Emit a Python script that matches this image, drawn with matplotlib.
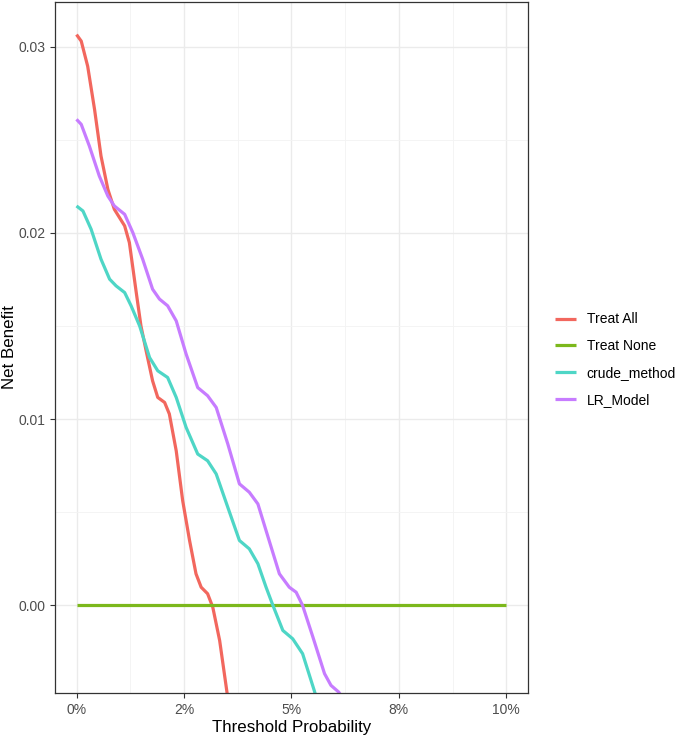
import matplotlib
matplotlib.use("Agg")
from matplotlib import pyplot as plt
from matplotlib.ticker import FixedLocator

plt.rcParams['font.family'] = ['Liberation Sans', 'DejaVu Sans']

# threshold probability (%) and net benefit
all_x = [0.0, 0.11, 0.26, 0.42, 0.57, 0.73, 0.88, 1.12, 1.23, 1.39, 1.50,
         1.62, 1.77, 1.89, 2.05, 2.16, 2.32, 2.47, 2.63, 2.78, 2.90, 3.05,
         3.17, 3.33, 3.50, 3.56]
all_y = [0.03065, 0.0303, 0.02895, 0.02663, 0.02413, 0.02234, 0.02127,
         0.02038, 0.01948, 0.0168, 0.0150, 0.01367, 0.01206, 0.01117, 0.0109,
         0.01028, 0.0083, 0.00563, 0.00349, 0.0017, 0.00098, 0.00063,
         -0.00009, -0.00188, -0.00465, -0.0056]

none_x = [0.0, 10.0]
none_y = [0.0, 0.0]

crude_x = [0.0, 0.15, 0.34, 0.57, 0.77, 0.92, 1.12, 1.27, 1.47, 1.70, 1.89,
           2.12, 2.32, 2.55, 2.82, 3.05, 3.25, 3.52, 3.79, 4.02, 4.22, 4.41,
           4.57, 4.80, 5.03, 5.26, 5.53, 5.60]
crude_y = [0.02145, 0.02118, 0.0202, 0.01859, 0.01752, 0.01716, 0.0168,
           0.01609, 0.0150, 0.01331, 0.0126, 0.01224, 0.01117, 0.00956,
           0.00813, 0.00777, 0.00706, 0.00527, 0.00349, 0.00304, 0.00224,
           0.00098, 0.0, -0.00134, -0.00179, -0.00259, -0.00456, -0.0051]

lr_x = [0.0, 0.11, 0.30, 0.53, 0.73, 0.88, 1.12, 1.31, 1.54, 1.77, 1.93,
        2.12, 2.32, 2.55, 2.82, 3.05, 3.25, 3.52, 3.79, 4.02, 4.22, 4.41,
        4.72, 4.95, 5.11, 5.26, 5.50, 5.77, 5.92, 6.10, 6.20]
lr_y = [0.0261, 0.02583, 0.02466, 0.02306, 0.02198, 0.02145, 0.021,
        0.02002, 0.01859, 0.01698, 0.01645, 0.01609, 0.01528, 0.0135,
        0.0117, 0.01126, 0.01063, 0.00867, 0.00653, 0.00608, 0.00545,
        0.00402, 0.0017, 0.00098, 0.00071, 0.0, -0.0017, -0.00366, -0.00429,
        -0.00465, -0.0050]

labels = ["Treat All", "Treat None", "crude_method", "LR_Model"]
colors = ["#F2675E", "#7CB81C", "#4ED6C6", "#C77CFF"]

x_ticks = [0, 2.5, 5, 7.5, 10]
x_tick_labels = ["0%", "2%", "5%", "8%", "10%"]
y_ticks = [0.0, 0.01, 0.02, 0.03]
y_tick_labels = ["0.00", "0.01", "0.02", "0.03"]

fig = plt.figure(figsize=(6.75, 7.36), dpi=100)
ax = fig.add_axes([0.0815, 0.0584, 0.7005, 0.9389])

series = [(all_x, all_y), (none_x, none_y), (crude_x, crude_y), (lr_x, lr_y)]
for (xs, ys), lab, col in zip(series, labels, colors):
    ax.plot(xs, ys, color=col, lw=2.3, label=lab, solid_capstyle='butt',
            solid_joinstyle='round')

ax.set_xlim(-0.5, 10.5)
ax.set_ylim(-0.0047, 0.0324)

ax.set_xticks(x_ticks)
ax.set_xticklabels(x_tick_labels)
ax.set_yticks(y_ticks)
ax.set_yticklabels(y_tick_labels)
ax.xaxis.set_minor_locator(FixedLocator([1.25, 3.75, 6.25, 8.75]))
ax.yaxis.set_minor_locator(FixedLocator([0.005, 0.015, 0.025]))

ax.grid(which='major', color='#EBEBEB', lw=1.0)
ax.grid(which='minor', color='#F3F3F3', lw=0.6)
ax.set_axisbelow(True)
ax.tick_params(which='major', length=3.5, color='#333333', labelcolor='#4D4D4D',
               labelsize=10)
ax.tick_params(which='minor', length=0)
for s in ax.spines.values():
    s.set_color('#333333')
    s.set_linewidth(0.9)

ax.set_xlabel("Threshold Probability", fontsize=12.2, labelpad=2)
ax.set_ylabel("Net Benefit", fontsize=12.2, labelpad=1)

fig.legend(loc='center left', bbox_to_anchor=(552 / 675, 0.5115),
           bbox_transform=fig.transFigure, frameon=False, fontsize=10,
           handlelength=1.5, handletextpad=0.8, labelspacing=0.92,
           borderpad=0.2, borderaxespad=0)

fig.savefig("out.png", dpi=100)
